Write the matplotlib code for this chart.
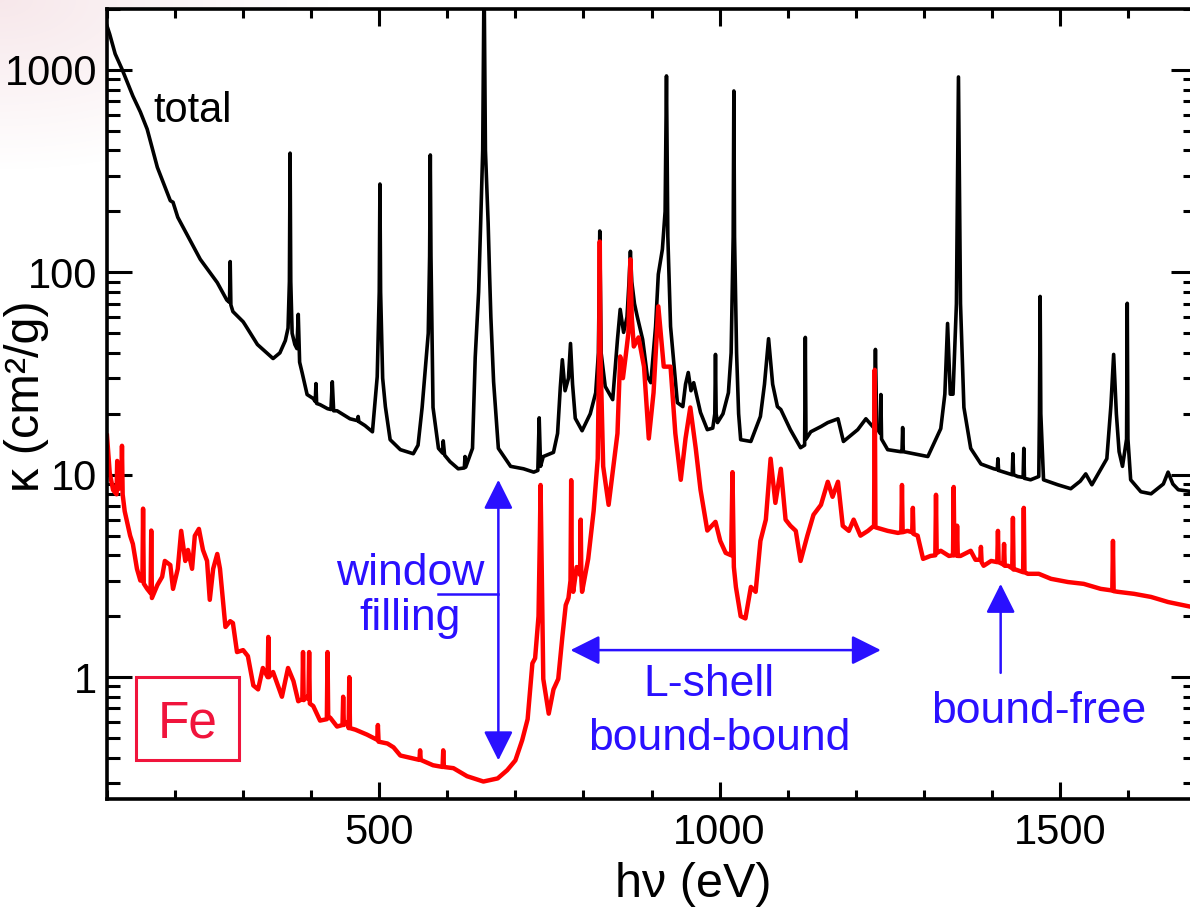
import matplotlib
matplotlib.use("Agg")
import numpy as np
import matplotlib.pyplot as plt
from matplotlib.patches import Rectangle
from matplotlib.ticker import MultipleLocator, LogLocator, FuncFormatter, NullFormatter

plt.rcParams['font.family'] = ['Liberation Sans', 'DejaVu Sans']

# total opacity (black): photon energy (eV) and kappa (cm^2/g)
total_ev = [100, 104, 112, 122, 138, 149, 159, 174, 190, 193, 197, 204, 237, 262, 276, 280, 281, 282, 285,
            300, 303, 321, 344, 354, 362, 366, 368, 369, 370, 372, 376, 379, 381, 383,
            387, 394, 403, 406, 407, 408, 413, 424, 429, 431, 433, 438, 457, 468, 469,
            470, 479, 490, 497, 500, 501, 502, 505, 509, 516, 531, 550, 557, 563, 572,
            574, 575, 576, 579, 587, 593, 594, 596, 604, 616, 625, 626, 627, 637, 641, 646,
            649, 652, 654, 656, 660, 662, 664, 668, 675, 693, 712, 727, 733, 735, 737, 741,
            756, 762, 766, 769, 773, 778, 781, 784, 788, 798, 810, 818, 822, 824, 826,
            832, 843, 850, 854, 859, 864, 867, 869, 871, 875, 879, 887, 894, 899, 906,
            910, 916, 920, 922, 924, 928, 938, 946, 950, 954, 958, 962, 972, 982, 990,
            993, 994, 995, 997, 1005, 1013, 1017, 1020, 1021, 1022, 1025, 1028, 1031, 1046, 1060,
            1066, 1072, 1078, 1085, 1090, 1104, 1119, 1125, 1126, 1127, 1134, 1149, 1159, 1174, 1182,
            1203, 1215, 1227, 1229, 1231, 1236, 1237, 1238, 1247, 1266, 1268, 1269, 1270, 1285, 1306,
            1325, 1331, 1335, 1339, 1343, 1348, 1351, 1354, 1359, 1369, 1384, 1403, 1408, 1409, 1410,
            1418, 1430, 1431, 1432, 1438, 1446, 1447, 1448, 1457, 1469, 1470, 1471, 1472, 1476, 1497,
            1516, 1530, 1538, 1547, 1569, 1575, 1579, 1583, 1587, 1592, 1598, 1599, 1600, 1604, 1619,
            1634, 1652, 1659, 1666, 1674, 1700]
total_kappa = [1650, 1500, 1200, 1010, 743, 620, 510, 330, 240, 226, 222, 187, 116, 89, 73, 71, 113, 69, 64,
               57, 55, 44, 37.5, 40, 46, 53, 90, 388, 90, 50, 44, 42, 62, 36,
               31.6, 24.9, 23.8, 23, 28.2, 22.5, 22.2, 21.2, 21.0, 28.8, 20.7, 20.7, 18.9, 18.5, 19.4,
               18.3, 17.5, 16.3, 30.5, 80, 273, 80, 30, 21.7, 14.9, 13.3, 12.7, 14, 21.5, 50,
               120, 380, 120, 21.5, 13.5, 12.8, 14.7, 12.5, 11.6, 10.7, 10.8, 12.3, 10.9, 13.5, 38, 80,
               175, 400, 3000, 400, 175, 100, 60, 28.8, 13.5, 11.0, 10.7, 10.3, 10.5, 19.1, 11.0, 12.3,
               12.9, 16, 27, 37, 26, 30, 44.5, 28, 19, 16.5, 20, 25.4, 40, 160, 40,
               27.3, 23.5, 46.6, 65.6, 50.5, 60, 90, 127, 90, 70, 60.6, 46.6, 30.5, 28.5, 54,
               97.8, 130, 200, 934, 150, 54, 22.7, 21.7, 28, 32, 26, 28.5, 20.3, 16.7, 17,
               20, 39.3, 20, 18.1, 20, 25.4, 40, 150, 787, 150, 40, 20, 14.9, 14.6, 19.4,
               28, 47, 28, 21.7, 21.0, 16.7, 13.6, 14, 47.7, 15, 16.3, 17.3, 18.1, 18.9, 14.6,
               16.7, 18.9, 17, 41.6, 17, 16, 24.9, 15, 13.3, 13.0, 13, 17.1, 13, 12.7, 12.3,
               16.9, 25, 55.9, 25, 25, 70, 923, 70, 21.5, 13.5, 11.3, 10.7, 10.6, 12.0, 10.5,
               10.3, 10.0, 12.7, 10.0, 9.8, 9.7, 13.5, 9.6, 9.44, 9.8, 20, 76, 20, 9.44, 8.92,
               8.53, 9.3, 10.1, 8.92, 12.0, 22, 39.3, 20, 13, 11, 15, 70.3, 15, 9.44, 8.24,
               8.05, 9, 10.3, 9, 8.43, 8.2]

# Fe opacity (red)
fe_ev = [100, 104, 109, 114, 115, 117, 118, 121, 122, 123, 126, 134, 138, 144, 149,
         152, 153, 154, 159, 164, 165, 166, 174, 181, 185, 193, 197, 204, 209, 215,
         219, 225, 229, 235, 241, 247, 251, 256, 262, 266, 274, 281, 285, 291, 300,
         307, 315, 322, 329, 336, 337, 338, 344, 357, 366, 374, 381, 387, 388, 389,
         394, 396, 397, 398, 403, 413, 423, 424, 425, 428, 438, 446, 447, 448, 453,
         455, 456, 457, 465, 482, 497, 498, 499, 512, 521, 531, 559, 560, 561, 579,
         593, 594, 595, 609, 629, 653, 674, 688, 700, 710, 718, 725, 729, 734, 736,
         737, 739, 741, 749, 756, 763, 769, 774, 778, 781, 782, 783, 785, 790, 795,
         796, 797, 798, 807, 815, 821, 823, 824, 825, 829, 837, 844, 850, 854, 858,
         862, 866, 869, 871, 874, 881, 889, 896, 903, 910, 918, 928, 935, 943, 950,
         957, 965, 972, 982, 994, 1001, 1009, 1017, 1019, 1021, 1024, 1031, 1038, 1046, 1053,
         1060, 1068, 1075, 1082, 1090, 1097, 1104, 1112, 1119, 1129, 1138, 1149, 1159, 1166, 1174,
         1181, 1190, 1197, 1207, 1218, 1227, 1228, 1229, 1247, 1262, 1267, 1268, 1269, 1276, 1283,
         1284, 1285, 1291, 1299, 1310, 1317, 1318, 1319, 1325, 1337, 1343, 1344, 1345, 1348, 1349,
         1350, 1354, 1369, 1376, 1383, 1384, 1385, 1388, 1399, 1408, 1409, 1410, 1417, 1418, 1419,
         1424, 1430, 1431, 1432, 1435, 1446, 1447, 1448, 1453, 1469, 1487, 1512, 1535, 1560, 1577,
         1578, 1579, 1585, 1609, 1634, 1659, 1700]
fe_kappa = [15.6, 10.2, 8.4, 8.0, 11.7, 8.5, 9.2, 8.6, 13.9, 8.0, 6.6, 5.0, 4.55, 3.43, 3.0,
            3.0, 6.8, 2.9, 2.73, 2.6, 5.3, 2.46, 2.85, 3.13, 3.75, 3.58, 2.73, 3.43, 5.28, 3.75,
            4.25, 3.43, 4.99, 5.4, 4.25, 3.75, 2.41, 3.43, 4.06, 3.43, 1.77, 1.89, 1.85, 1.33, 1.36,
            1.27, 0.91, 0.87, 1.11, 1.0, 1.58, 1.0, 1.06, 0.80, 1.11, 0.955, 0.76, 0.78, 1.33, 0.77,
            0.80, 0.78, 1.33, 0.74, 0.72, 0.61, 0.62, 1.33, 0.63, 0.63, 0.57, 0.58, 0.80, 0.58, 0.60,
            0.56, 1.0, 0.56, 0.55, 0.52, 0.49, 0.58, 0.48, 0.47, 0.45, 0.41, 0.39, 0.435, 0.39, 0.367,
            0.36, 0.435, 0.36, 0.355, 0.324, 0.305, 0.316, 0.347, 0.388, 0.488, 0.62, 1.17, 1.24, 2.0, 5,
            8.9, 3, 0.98, 0.66, 0.87, 0.98, 1.58, 2.27, 2.46, 3, 9.4, 3, 2.64, 3.5, 3.2,
            6.0, 3.0, 2.64, 3.84, 6.63, 12.0, 40, 142, 40, 11.0, 7.1, 11.0, 16.0, 38.4, 30,
            38.4, 50, 116, 60, 43, 47.7, 34.2, 15.1, 25.4, 67.9, 34.2, 34.2, 16.0, 9.44, 15.1,
            21.5, 13.5, 8.43, 5.3, 5.85, 4.71, 4.11, 4.0, 10.3, 3.5, 2.79, 2.0, 1.95, 2.79, 2.64,
            4.71, 6.0, 12.0, 7.26, 10.7, 6.0, 5.6, 5.28, 3.75, 5.0, 6.34, 7.1, 9.23, 7.78, 9.23,
            5.59, 5.28, 6.0, 5.0, 5.28, 5.6, 33, 5.5, 5.28, 5.16, 5.2, 8.9, 5.2, 5.28, 5.2,
            6.86, 5.1, 5.0, 3.84, 3.97, 4.0, 7.96, 4.1, 4.21, 3.97, 4.0, 8.7, 4.0, 4.0, 5.6,
            3.97, 3.97, 4.21, 3.8, 3.8, 4.4, 3.7, 3.55, 3.75, 3.7, 5.28, 3.7, 3.6, 4.55, 3.55,
            3.55, 3.45, 6.12, 3.4, 3.4, 3.3, 6.86, 3.3, 3.24, 3.24, 3.06, 2.95, 2.89, 2.73, 2.68,
            4.71, 2.66, 2.64, 2.58, 2.49, 2.35, 2.2]

blue = '#2a10ff'
fe_red = '#f0143c'

fig = plt.figure(figsize=(11.9, 9.08), dpi=100)

# faint slide tint in the top-left corner
bg = fig.add_axes([0, 0, 1, 1], zorder=-1)
bg.axis('off')
yy, xx = np.mgrid[0:908, 0:1190]
fade = np.clip(1 - np.hypot(xx / 330.0, yy / 170.0), 0, 1) * 0.6
tint = np.ones((908, 1190, 4))
tint[..., 0], tint[..., 1], tint[..., 2] = 0.95, 0.85, 0.87
tint[..., 3] = fade
bg.imshow(tint, extent=[0, 1190, 908, 0], aspect='auto')

ax = fig.add_axes([107 / 1190, 109 / 908, 1089 / 1190, 790 / 908])

ax.plot(total_ev, total_kappa, color='black', lw=2.6)
ax.plot(fe_ev, fe_kappa, color='#ff0000', lw=3.2)

ax.set_yscale('log')
ax.set_xlim(100, 1700)
ax.set_ylim(0.25, 2000)

ax.xaxis.set_major_locator(MultipleLocator(500))
ax.xaxis.set_minor_locator(MultipleLocator(100))
ax.yaxis.set_major_locator(LogLocator(base=10))
ax.yaxis.set_minor_locator(LogLocator(base=10, subs=range(2, 10)))
ax.yaxis.set_major_formatter(FuncFormatter(lambda v, _: f'{v:g}'))
ax.yaxis.set_minor_formatter(NullFormatter())

ax.tick_params(which='both', direction='in', top=True, right=True, width=2.2, labelsize=30)
ax.tick_params(axis='x', which='major', length=12, pad=10)
ax.tick_params(axis='x', which='minor', length=6.5)
ax.tick_params(axis='y', which='major', length=18, pad=7)
ax.tick_params(axis='y', which='minor', length=9.5)
for s in ax.spines.values():
    s.set_linewidth(2.6)

fig.text(693 / 1190, 11 / 908, 'h\u03bd (eV)', fontsize=35, ha='center', va='baseline')
fig.text(27 / 1190, 1 - 396 / 908, '\u03ba (cm\u00b2/g)', fontsize=35, rotation=90,
         ha='center', va='center')

ax.text(226, 553, 'total', fontsize=30, ha='center', va='baseline')

# Fe label in a box
ax.add_patch(Rectangle((29 / 1089, 39 / 790), 103 / 1089, 83 / 790, transform=ax.transAxes,
                       fill=False, edgecolor=fe_red, lw=2.2))
ax.text(219, 0.505, 'Fe', fontsize=37, color=fe_red, ha='center', va='baseline')

# annotations
arrow = dict(arrowstyle='<|-|>,head_length=0.4,head_width=0.2', color=blue, lw=1.8,
             mutation_scale=45, shrinkA=0, shrinkB=0)
ax.annotate('', xy=(675, 9.44), xytext=(675, 0.388), arrowprops=arrow)
ax.plot([587, 675], [2.58, 2.58], color=blue, lw=1.8)
ax.text(545, 2.85, 'window', fontsize=32, color=blue, ha='center', va='baseline')
ax.text(545, 1.71, 'filling', fontsize=32, color=blue, ha='center', va='baseline')

ax.annotate('', xy=(781, 1.36), xytext=(1237, 1.36), arrowprops=arrow)
ax.text(984, 0.805, 'L-shell', fontsize=32, color=blue, ha='center', va='baseline')
ax.text(999, 0.435, 'bound-bound', fontsize=32, color=blue, ha='center', va='baseline')

single = dict(arrow, arrowstyle='-|>,head_length=0.4,head_width=0.2')
ax.annotate('', xy=(1413, 2.89), xytext=(1413, 1.05), arrowprops=single)
ax.text(1469, 0.592, 'bound-free', fontsize=32, color=blue, ha='center', va='baseline')

fig.savefig('out.png', dpi=100)
